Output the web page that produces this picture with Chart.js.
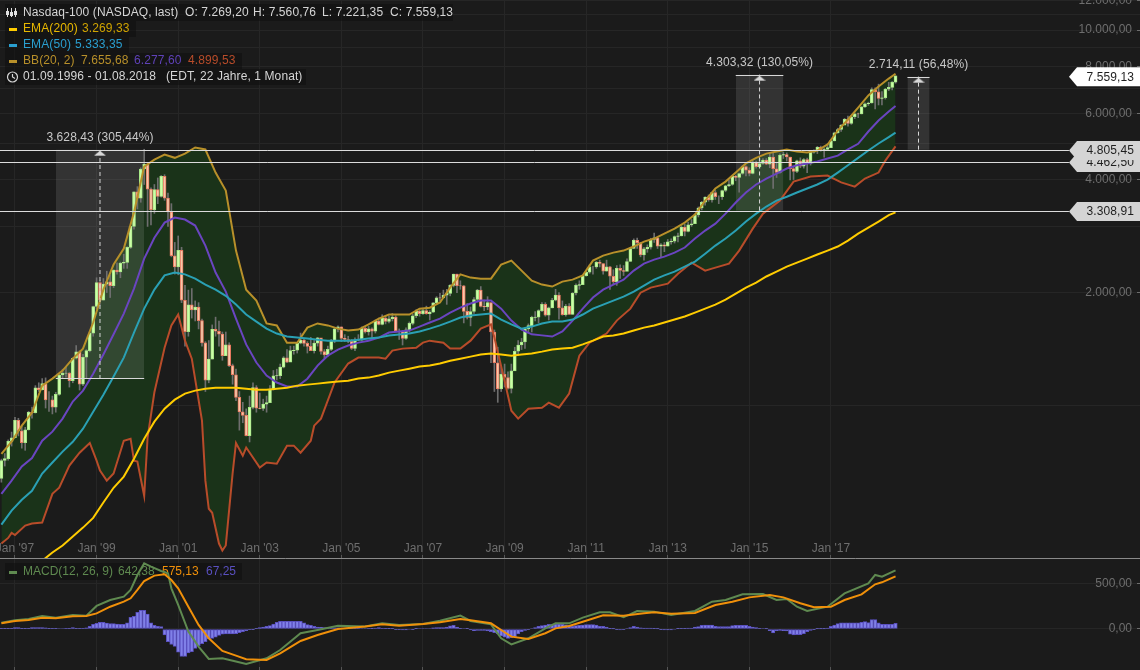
<!DOCTYPE html>
<html>
<head>
<meta charset="utf-8">
<title>Nasdaq-100</title>
<script src="https://cdn.jsdelivr.net/npm/chart.js@4"></script>
<style>
    html, body { margin: 0; padding: 0; background: #1b1b1b; overflow: hidden; }
    canvas { position: absolute; left: 0; display: block; }
    #mainChart { top: 0; }
    #macdChart { top: 559px; }
</style>
</head>
<body>
<canvas id="mainChart" width="1140" height="559"></canvas>
<canvas id="macdChart" width="1140" height="111"></canvas>
<script>
// Monthly candles, Sep 1996 - Aug 2018 (month 0 = Sep 1996)
const opens = [
    640,714,722,803,
    821,914,857,797,862,959,957,1115,1103,1145,1035,1035,
    990,1071,1206,1220,1221,1165,1337,1390,1140,1345,1400,1560,
    1836,2127,1908,2106,2136,2085,2296,2270,2396,2407,2638,3000,
    3707,3570,4266,4397,3773,3324,3763,3609,4077,3570,3282,2506,
    2341,2593,1908,1573,1855,1799,1830,1683,1469,1168,1329,1596,
    1577,1550,1359,1452,1277,1208,1051,962,942,832,989,1116,
    984,982,1009,1018,1106,1200,1201,1266,1340,1304,1400,1404,
    1467,1494,1465,1438,1401,1466,1516,1393,1365,1412,1485,1600,
    1621,1510,1500,1483,1420,1495,1493,1605,1572,1601,1579,1680,
    1645,1710,1676,1703,1720,1580,1575,1510,1590,1655,1735,1784,
    1756,1792,1758,1772,1877,1936,1934,1967,1990,2091,2239,2085,
    2084,1782,1716,1781,1917,2030,1837,1830,1880,1570,1300,1108,
    1212,1188,1111,1237,1395,1450,1477,1600,1632,1718,1720,1790,
    1860,1740,1820,1908,1970,1820,1746,1840,1750,1994,2090,2100,
    2217,2265,2340,2340,2409,2390,2281,2340,2210,2139,2320,2290,
    2278,2420,2620,2755,2715,2520,2615,2640,2770,2799,2660,2680,
    2660,2730,2740,2820,2830,2990,2910,3030,3050,3220,3360,3480,
    3592,3530,3690,3600,3600,3740,3850,3880,4080,4050,4150,4330,
    4236,4150,4450,4330,4414,4508,4396,4588,4274,4181,4648,4665,
    4593,4279,4202,4484,4341,4524,4418,4730,4771,4875,4801,4810,
    4864,5070,5330,5436,5583,5788,5647,5880,5988,5979,6248,6366,
    6396,6949,6855,6581,6605,6967,7040,7269.2
];
const highs = [
    720,745,810,850,
    930,925,880,875,965,990,1130,1150,1180,1185,1090,1060,
    1085,1215,1250,1265,1225,1340,1445,1400,1370,1410,1570,1840,
    2190,2150,2180,2280,2230,2300,2400,2410,2530,2650,3000,3710,
    3830,4300,4816,4400,3800,3880,4040,4100,4120,3680,3450,2720,
    2830,2640,2090,2030,2050,1900,1880,1700,1480,1490,1640,1720,
    1680,1570,1570,1470,1290,1250,1090,1020,980,1060,1150,1130,
    1080,1040,1060,1130,1240,1250,1290,1350,1410,1440,1440,1470,
    1560,1510,1480,1520,1490,1520,1510,1410,1440,1500,1610,1630,
    1620,1545,1530,1500,1515,1545,1620,1625,1625,1610,1690,1710,
    1745,1730,1730,1760,1735,1600,1585,1610,1670,1750,1800,1795,
    1815,1840,1790,1880,1950,1990,2030,2040,2100,2240,2240,2150,
    2090,1870,1830,1940,2040,2075,1910,1950,1880,1590,1430,1270,
    1290,1230,1290,1430,1490,1510,1610,1650,1730,1780,1800,1880,
    1880,1830,1930,2040,2000,1900,1860,1870,2000,2110,2150,2220,
    2290,2370,2350,2420,2440,2390,2440,2350,2300,2360,2370,2360,
    2460,2640,2780,2795,2720,2640,2680,2790,2880,2810,2700,2720,
    2770,2780,2830,2880,3010,3040,3080,3130,3240,3380,3500,3600,
    3640,3700,3740,3620,3750,3860,3990,4100,4110,4160,4360,4350,
    4300,4490,4480,4560,4550,4550,4690,4710,4420,4680,4730,4710,
    4590,4310,4510,4570,4550,4560,4740,4800,4900,4910,4860,4980,
    5110,5350,5480,5600,5820,5900,5910,6020,6010,6260,6400,6430,
    7020,7020,7180,6860,7000,7260,7290,7560.76
];
const lows = [
    625,690,715,780,
    820,830,770,760,860,925,955,1090,1100,985,965,950,
    960,1065,1180,1190,1120,1150,1330,1100,1130,1180,1390,1530,
    1810,1850,1910,2000,1940,2060,2240,2190,2320,2320,2620,2950,
    3340,3480,3880,3000,3030,3250,3450,3590,3520,3000,2490,2240,
    2230,1880,1440,1530,1710,1680,1600,1440,1090,1150,1330,1530,
    1440,1320,1380,1270,1140,1030,860,900,830,800,980,960,
    980,970,960,1020,1100,1170,1180,1260,1300,1310,1370,1380,
    1460,1440,1380,1400,1380,1440,1370,1340,1350,1400,1470,1570,
    1480,1480,1470,1410,1400,1490,1490,1560,1540,1510,1560,1640,
    1640,1650,1660,1680,1570,1500,1450,1500,1570,1640,1715,1730,
    1750,1750,1690,1770,1870,1900,1940,1860,1960,2070,2000,2040,
    1660,1700,1630,1760,1890,1830,1790,1800,1300,1090,1020,1090,
    1120,1105,1080,1240,1360,1410,1420,1560,1570,1680,1660,1780,
    1730,1690,1820,1900,1700,1740,1730,1750,1750,1970,2040,2100,
    2210,2250,2240,2320,2340,2240,2280,2040,2110,2090,2180,2220,
    2300,2420,2620,2620,2490,2440,2560,2610,2720,2620,2490,2570,
    2660,2690,2710,2730,2830,2830,2900,3000,3060,3180,3320,3420,
    3500,3480,3540,3450,3540,3710,3830,3860,3970,3700,4130,4090,
    4090,4140,4290,4290,4390,4380,4300,3790,4050,4160,4550,4480,
    3990,4000,4170,4300,4290,4170,4370,4700,4690,4760,4590,4790,
    4860,5070,5310,5370,5600,5550,5610,5810,5850,5980,6230,6300,
    6390,6170,6320,6320,6550,6900,6930,7221.35
];
const closes = [
    714,722,803,821,
    914,857,797,862,959,957,1115,1103,1145,1035,1035,990,
    1071,1206,1220,1221,1165,1337,1390,1140,1345,1400,1560,1836,
    2127,1908,2106,2136,2085,2296,2270,2396,2407,2638,3000,3707,
    3570,4266,4397,3773,3324,3763,3609,4077,3570,3282,2506,2341,
    2593,1908,1573,1855,1799,1830,1683,1469,1168,1329,1596,1577,
    1550,1359,1452,1277,1208,1051,962,942,832,989,1116,984,
    982,1009,1018,1106,1200,1201,1266,1340,1304,1400,1404,1467,
    1494,1465,1438,1401,1466,1516,1393,1365,1412,1485,1600,1621,
    1510,1500,1483,1420,1495,1493,1605,1572,1601,1579,1680,1645,
    1710,1676,1703,1720,1580,1575,1510,1590,1655,1735,1784,1756,
    1792,1758,1772,1877,1936,1934,1967,1990,2091,2239,2085,2084,
    1782,1716,1781,1917,2030,1837,1830,1880,1570,1300,1108,1212,
    1188,1111,1237,1395,1450,1477,1600,1632,1718,1720,1790,1860,
    1740,1820,1908,1970,1820,1746,1840,1750,1994,2090,2100,2217,
    2265,2340,2340,2409,2390,2281,2340,2210,2139,2320,2290,2278,
    2420,2620,2755,2715,2520,2615,2640,2770,2799,2660,2680,2660,
    2730,2740,2820,2830,2990,2910,3030,3050,3220,3360,3480,3592,
    3530,3690,3600,3600,3740,3850,3880,4080,4050,4150,4330,4236,
    4150,4450,4330,4414,4508,4396,4588,4274,4181,4648,4665,4593,
    4279,4202,4484,4341,4524,4418,4730,4771,4875,4801,4810,4864,
    5070,5330,5436,5583,5788,5647,5880,5988,5979,6248,6366,6396,
    6949,6855,6581,6605,6967,7040,7272,7559.13
];

// Indicators every third month
const lineMonths = [
    0,3,6,9,12,15,18,21,24,27,30,33,36,39,42,45,48,51,54,57,60,63,66,69,72,75,78,81,84,87,
    90,93,96,99,102,105,108,111,114,117,120,123,126,129,132,135,138,141,144,147,150,153,156,159,
    162,165,168,171,174,177,180,183,186,189,192,195,198,201,204,207,210,213,216,219,222,225,228,
    231,234,237,240,243,246,249,252,255,258,261,263
];
const bbUpper = [
    744,801,884,957,1130,1180,1239,1333,1418,1664,2036,2375,2620,3270,4330,4520,4660,4570,4690,4870,
    4810,4175,3739,2587,2036,1904,1655,1635,1470,1470,1613,1655,1635,1603,1584,1594,1645,1705,1748,1748,
    1748,1812,1823,1882,2062,2236,2192,2178,2178,2375,2433,2288,2152,2100,2075,2139,2165,2222,2433,2508,
    2555,2587,2652,2734,2785,2872,2960,3072,3226,3516,3785,3950,4175,4415,4570,4690,4750,4810,4750,4720,
    4779,4960,5403,5780,6220,6700,7080,7430,7656
];
const bbMiddle = [
    582,631,688,725,806,852,923,1025,1096,1216,1368,1548,1758,2050,2463,2800,3072,3168,3130,3016,
    2668,2262,2012,1705,1455,1302,1202,1152,1124,1124,1179,1278,1358,1410,1445,1471,1489,1517,1565,1575,
    1584,1623,1664,1705,1768,1823,1870,1904,1904,1812,1684,1594,1548,1538,1527,1575,1684,1812,1940,2036,
    2100,2165,2288,2388,2448,2493,2555,2636,2785,2925,3052,3246,3475,3695,3880,4025,4150,4280,4365,4415,
    4470,4550,4630,4810,4980,5370,5744,6070,6278
];
const ema50 = [
    482,525,561,593,659,705,754,801,868,963,1069,1195,1342,1565,1812,2036,2222,2262,2236,2178,
    2100,2036,1960,1858,1748,1674,1603,1555,1527,1517,1508,1498,1489,1489,1489,1498,1508,1517,1536,1546,
    1555,1575,1603,1635,1674,1716,1738,1748,1758,1695,1645,1603,1623,1655,1674,1674,1695,1748,1812,1858,
    1904,1950,2012,2088,2165,2222,2274,2345,2418,2538,2668,2785,2925,3092,3246,3390,3516,3600,3695,3785,
    3880,4000,4175,4365,4570,4779,4990,5190,5333
];
const ema200Months = [
    12,15,18,21,24,27,30,33,36,39,42,45,48,51,54,57,60,63,66,69,72,75,78,81,84,87,
    90,93,96,99,102,105,108,111,114,117,120,123,126,129,132,135,138,141,144,147,150,153,156,159,
    162,165,168,171,174,177,180,183,186,189,192,195,198,201,204,207,210,213,216,219,222,225,228,
    231,234,237,240,243,246,249,252,255,258,261,263
];
const ema200 = [
    386,406,424,448,473,502,552,604,647,722,816,906,981,1037,1076,1096,1109,1116,1116,1116,
    1109,1102,1102,1109,1116,1130,1137,1144,1152,1159,1165,1180,1187,1202,1224,1239,1254,1270,1278,1294,
    1317,1333,1350,1368,1377,1368,1358,1368,1377,1392,1410,1418,1426,1455,1489,1527,1536,1555,1584,1613,
    1635,1664,1695,1727,1768,1812,1858,1915,1988,2062,2126,2207,2274,2345,2403,2463,2525,2587,2652,2751,
    2872,2978,3092,3216,3269
];
// Lower band has sharp turns, so it keeps its own months
const bbLowerMonths = [
    0,2,3,4,7,9,12,15,17,20,23,26,28,29,31,33,36,38,39,40,42,43,45,48,50,52,54,56,59,60,61,62,64,65,66,68,69,
    71,72,76,78,81,84,86,88,91,92,94,98,102,105,111,113,115,118,122,124,126,130,132,135,138,141,144,145,148,
    150,152,155,159,161,164,167,170,173,178,181,185,188,191,196,199,203,207,209,214,217,221,224,229,233,238,
    243,247,251,254,258,260,263
];
const bbLower = [
    429,444,458,452,479,485,488,582,604,692,749,795,713,671,631,659,806,816,713,709,575,821,1085,1426,1635,1748,
    1489,1333,912,631,531,518,429,411,424,659,795,735,773,684,705,700,782,782,749,806,884,923,1152,1294,1342,1342,
    1333,1401,1418,1426,1471,1489,1471,1418,1418,1489,1603,1645,1517,1165,969,923,981,987,1018,987,1076,1358,1471,
    1555,1684,1812,1998,2062,2112,2245,2403,2288,2316,2388,2587,2960,3246,3516,3950,4075,4100,3930,3830,4025,4175,
    4494,4900
];

// MACD panel
const macdMonths = [
    0,4,8,12,16,21,25,28,32,36,38,40,42,44,47,49,50,52,55,58,61,65,69,72,78,82,88,93,99,107,112,117,124,129,135,138,
    144,147,150,155,160,163,167,171,176,179,183,187,192,197,204,209,213,218,224,228,231,234,237,243,248,255,257,259,263
];
const macdLine = [
    69,95,109,142,124,153,146,252,317,354,427,591,718,682,635,609,445,263,-29,-193,-328,-321,-357,-383,-321,-230,
    -47,-11,36,26,62,44,55,91,146,88,51,-102,-168,-102,7,62,62,124,182,182,128,197,190,153,197,299,317,379,383,317,
    328,244,197,244,390,500,591,573,642
];
const signalMonths = [
    0,4,8,12,16,21,25,28,32,36,38,40,42,45,48,50,52,55,58,61,65,69,72,78,82,88,93,99,107,112,117,124,129,135,138,144,
    147,150,155,160,163,167,171,177,183,189,192,197,204,210,215,220,226,230,235,239,244,248,253,257,259,263
];
const signalLine = [
    62,88,98,124,117,139,142,171,244,299,336,427,525,584,598,536,445,244,44,-102,-241,-292,-332,-339,-266,-131,-66,
    0,26,51,36,55,73,109,95,62,-11,-84,-109,-47,7,33,80,150,146,171,182,168,175,263,299,346,372,346,281,237,244,317,
    379,489,511,575
];
const macdHist = [
    4,4,3,4,
    15,15,4,3,4,15,15,15,15,12,4,3,
    4,5,5,6,8,15,7,4,6,12,30,50,
    62,73,73,65,60,58,55,52,50,66,128,139,
    182,204,204,164,66,40,29,25,-66,-139,-170,-190,
    -255,-299,-299,-263,-248,-212,-182,-160,-139,-109,-102,-91,
    -70,-58,-55,-55,-55,-51,-40,-30,-18,-4,-2,8,
    15,22,30,36,55,73,84,84,84,84,84,84,
    84,66,47,40,29,22,18,15,15,15,12,12,
    10,8,8,6,6,6,5,5,6,8,10,15,
    6,4,3,3,-3,-8,-10,-10,-6,-3,3,5,
    5,5,5,12,15,15,15,20,35,40,20,8,
    5,3,-10,-18,-15,-15,-15,-20,-30,-40,-55,-75,
    -91,-102,-95,-85,-55,-30,-15,-3,5,15,28,36,
    42,50,50,55,55,50,45,40,30,36,40,44,
    47,47,47,44,30,29,20,4,2,-8,-11,-8,
    5,15,29,20,12,10,10,10,8,2,-8,-10,
    -10,-10,-6,8,4,4,10,10,22,25,40,44,
    44,44,30,26,26,26,26,36,40,40,40,40,
    28,22,15,8,5,2,-18,-44,-18,-15,-18,-22,
    -58,-66,-62,-62,-50,-30,-15,-3,1,1,2,10,
    30,44,58,66,66,66,66,66,66,73,80,70,
    102,102,66,51,51,51,51,62
];

// Axis ticks
const xTickMonths = [4, 28, 52, 76, 100, 124, 148, 172, 196, 220, 244];
const xTickLabels = ["Jan '97", "Jan '99", "Jan '01", "Jan '03", "Jan '05", "Jan '07", "Jan '09", "Jan '11", "Jan '13", "Jan '15", "Jan '17"];
const yTickValues = [1000, 2000, 3000, 4000, 5000, 6000, 7000, 8000, 9000, 10000, 11000, 12000];
const yTickLabels = ['', '2.000,00', '', '4.000,00', '', '6.000,00', '', '8.000,00', '', '10.000,00', '', '12.000,00'];
const macdTickValues = [0, 500];
const macdTickLabels = ['0,00', '500,00'];

// Horizontal levels and the price tags on the right
const levelValues = [3308.91, 4462.50, 4805.45];
const levelLabels = ['3.308,91', '4.462,50', '4.805,45'];
const levelEndMonth = 314;
const lastPrice = 7559.13;
const lastPriceLabel = '7.559,13';

// Measure boxes
const boxStart = [16, 216, 266.5];
const boxEnd = [42, 230, 273];
const boxLow = [1177.02, 3308.91, 4805.45];
const boxHigh = [4805.45, 7612.23, 7519.56];
const boxLabels = ['3.628,43 (305,44%)', '4.303,32 (130,05%)', '2.714,11 (56,48%)'];

const FONT = '12px "Liberation Sans"';
const TEXT_SPACING = '0.1px';
const X_MIN = -0.41;
const X_MAX = 334.9;

const COLORS = {
    bg: '#1b1b1b',
    grid: '#262626',
    tick: '#6e6e6e',
    band: '#1a3319',
    ema200: '#ffcc00',
    ema50: '#2aa0b4',
    bbUpper: '#b8902a',
    bbMiddle: '#6a45c0',
    bbLower: '#b84c2a',
    macd: '#5f8a50',
    signal: '#f0900a',
    histFill: '#8080e8',
    histEdge: '#5a50c0'
};

function toPoints(months, values) {
    return months.map((m, i) => ({ x: m, y: values[i] }));
}

function lineSet(months, values, color, width, order) {
    return {
        type: 'line',
        data: toPoints(months, values),
        borderColor: color,
        borderWidth: width,
        pointRadius: 0,
        fill: false,
        tension: 0,
        order: order
    };
}

function isUp(i) {
    return closes[i] >= opens[i];
}

// x axis takes no room of its own, labels sit inside the plot
function flattenXAxis(scale) {
    scale.height = 0;
    scale.paddingLeft = 0;
    scale.paddingRight = 0;
}

// Flat arrow head, hangs just below its point
function makeArrowHead() {
    const c = document.createElement('canvas');
    c.width = 12;
    c.height = 14;
    const g = c.getContext('2d');
    g.fillStyle = '#d8d8d8';
    g.beginPath();
    g.moveTo(6, 8);
    g.lineTo(12, 13);
    g.lineTo(0, 13);
    g.closePath();
    g.fill();
    return c;
}

// Candles: wick and body are both floating bars
const wickSet = {
    type: 'bar',
    data: closes.map((c, i) => ({ x: i, y: [lows[i], highs[i]] })),
    backgroundColor: '#6e6e6e',
    borderWidth: 0,
    barThickness: 1,
    grouped: false,
    order: 31
};
const bodySet = {
    type: 'bar',
    data: closes.map((c, i) => ({ x: i, y: [opens[i], c] })),
    backgroundColor: ctx => isUp(ctx.dataIndex) ? '#ccffa8' : '#f8c8a8',
    borderColor: ctx => isUp(ctx.dataIndex) ? '#a8e888' : '#e87860',
    borderWidth: 1,
    borderSkipped: false,
    barThickness: 3,
    grouped: false,
    order: 30
};

const mainSets = [wickSet, bodySet];

// Band fill runs from the lower to the upper line
mainSets.push(lineSet(lineMonths, bbUpper, COLORS.bbUpper, 2, 10));
const upperIndex = mainSets.length - 1;
const lowerSet = lineSet(bbLowerMonths, bbLower, COLORS.bbLower, 2, 11);
lowerSet.fill = { target: upperIndex };
lowerSet.backgroundColor = COLORS.band;
mainSets.push(lowerSet);
mainSets.push(lineSet(lineMonths, bbMiddle, COLORS.bbMiddle, 2, 9));
mainSets.push(lineSet(lineMonths, ema50, COLORS.ema50, 2, 8));
mainSets.push(lineSet(ema200Months, ema200, COLORS.ema200, 2, 7));

// Measure boxes: top and bottom edges with a fill between, arrow up the middle
const arrowHead = makeArrowHead();
boxStart.forEach((start, b) => {
    const bottom = lineSet([start, boxEnd[b]], [boxLow[b], boxLow[b]], '#d8d8d8', 1, 5);
    bottom.snapShift = b === 0 ? 0 : 1;
    mainSets.push(bottom);
    const lowIndex = mainSets.length - 1;
    const top = lineSet([start, boxEnd[b]], [boxHigh[b], boxHigh[b]], '#d8d8d8', 1, 5);
    top.snapShift = 1;
    top.fill = { target: lowIndex };
    top.backgroundColor = 'rgba(255, 255, 255, 0.105)';
    mainSets.push(top);
    const mid = (start + boxEnd[b]) / 2;
    const arrow = lineSet([mid, mid], [boxLow[b], boxHigh[b]], '#d8d8d8', 1, 4);
    arrow.borderDash = [4, 3];
    arrow.pointStyle = arrowHead;
    arrow.pointRadius = [0, 6];
    mainSets.push(arrow);
});

levelValues.forEach(v => {
    const level = lineSet([X_MIN, levelEndMonth], [v, v], '#dcdcdc', 1, 3);
    level.snapShift = 1;
    mainSets.push(level);
});

// Flat lines sit on a whole pixel row
const snapPlugin = {
    id: 'snapLines',
    beforeDatasetDraw(chart, args) {
        const ds = chart.data.datasets[args.index];
        if (ds.snapShift === undefined) return;
        const y = chart.scales.y.getPixelForValue(ds.data[0].y);
        chart.ctx.save();
        chart.ctx.translate(0, Math.floor(y + ds.snapShift) + 0.5 - y);
    },
    afterDatasetDraw(chart, args) {
        if (chart.data.datasets[args.index].snapShift !== undefined) chart.ctx.restore();
    }
};

function drawRowBox(ctx, x, y, w, h) {
    ctx.fillStyle = 'rgba(14, 14, 14, 0.55)';
    ctx.fillRect(x, y, w, h);
}

function drawRun(ctx, text, x, y, color) {
    ctx.fillStyle = color;
    ctx.fillText(text, x, y);
}

function drawSwatch(ctx, y, color) {
    ctx.fillStyle = color;
    ctx.fillRect(9, y - 1, 8, 3);
}

// Top left legend block
const legendPlugin = {
    id: 'legendRows',
    afterDraw(chart) {
        const ctx = chart.ctx;
        ctx.save();
        ctx.font = FONT;
        ctx.letterSpacing = TEXT_SPACING;
        ctx.textAlign = 'left';
        ctx.textBaseline = 'middle';

        drawRowBox(ctx, 5, 4, 448, 17);
        drawRowBox(ctx, 5, 21, 131, 16);
        drawRowBox(ctx, 5, 37, 124, 16);
        drawRowBox(ctx, 5, 53, 237, 16);
        drawRowBox(ctx, 5, 69, 301, 16);

        // small candle icon
        ctx.strokeStyle = '#e0e0e0';
        ctx.lineWidth = 1;
        [7.5, 11.5, 15.5].forEach((x, i) => {
            ctx.beginPath();
            ctx.moveTo(x, 8);
            ctx.lineTo(x, 17);
            ctx.stroke();
            ctx.fillStyle = '#e0e0e0';
            ctx.fillRect(x - 1.5, 11 + (i % 2), 3, 4);
        });

        drawRun(ctx, 'Nasdaq-100 (NASDAQ, last)', 23, 13, '#d6d6d6');
        drawRun(ctx, 'O: 7.269,20', 185, 13, '#d6d6d6');
        drawRun(ctx, 'H: 7.560,76', 253, 13, '#d6d6d6');
        drawRun(ctx, 'L: 7.221,35', 322, 13, '#d6d6d6');
        drawRun(ctx, 'C: 7.559,13', 390, 13, '#d6d6d6');

        drawSwatch(ctx, 29, '#ffcc00');
        drawRun(ctx, 'EMA(200)', 23, 29, '#e8b800');
        drawRun(ctx, '3.269,33', 82, 29, '#d0a400');

        drawSwatch(ctx, 45, '#2a9fd0');
        drawRun(ctx, 'EMA(50)', 23, 45, '#2a9fd0');
        drawRun(ctx, '5.333,35', 75, 45, '#2a9fd0');

        drawSwatch(ctx, 61, '#b8902a');
        drawRun(ctx, 'BB(20, 2)', 23, 61, '#b8902a');
        drawRun(ctx, '7.655,68', 81, 61, '#b8902a');
        drawRun(ctx, '6.277,60', 134, 61, '#5f42b8');
        drawRun(ctx, '4.899,53', 188, 61, '#b84c2a');

        // clock icon
        ctx.strokeStyle = '#d6d6d6';
        ctx.lineWidth = 1.2;
        ctx.beginPath();
        ctx.arc(12.5, 77, 5, 0, Math.PI * 2);
        ctx.moveTo(12.5, 74);
        ctx.lineTo(12.5, 77);
        ctx.lineTo(15, 78.5);
        ctx.stroke();

        drawRun(ctx, '01.09.1996 - 01.08.2018', 23, 77, '#d6d6d6');
        drawRun(ctx, '(EDT, 22 Jahre, 1 Monat)', 166, 77, '#d6d6d6');
        ctx.restore();
    }
};

function drawTag(ctx, y, label, fill) {
    ctx.fillStyle = fill;
    ctx.beginPath();
    ctx.moveTo(1069, y);
    ctx.lineTo(1077, y - 9.5);
    ctx.lineTo(1140, y - 9.5);
    ctx.lineTo(1140, y + 9.5);
    ctx.lineTo(1077, y + 9.5);
    ctx.closePath();
    ctx.fill();
    ctx.fillStyle = '#1e1e1e';
    ctx.fillText(label, 1134, y + 0.5);
}

// Price tags and the captions above the measure boxes
const tagPlugin = {
    id: 'priceTags',
    afterDatasetsDraw(chart) {
        const ctx = chart.ctx;
        const xs = chart.scales.x;
        const ys = chart.scales.y;
        ctx.save();
        ctx.font = FONT;
        ctx.letterSpacing = TEXT_SPACING;
        ctx.textBaseline = 'middle';
        ctx.textAlign = 'right';
        levelValues.forEach((v, i) => drawTag(ctx, Math.floor(ys.getPixelForValue(v) + 1) + 0.5, levelLabels[i], '#d4d4d4'));
        drawTag(ctx, ys.getPixelForValue(lastPrice) + 1, lastPriceLabel, '#ffffff');

        ctx.textAlign = 'center';
        ctx.fillStyle = '#c8c8c8';
        boxLabels.forEach((text, b) => {
            const mid = xs.getPixelForValue((boxStart[b] + boxEnd[b]) / 2);
            ctx.fillText(text, mid, ys.getPixelForValue(boxHigh[b]) - 12);
        });
        ctx.restore();
    }
};

new Chart(document.getElementById('mainChart'), {
    type: 'line',
    data: { datasets: mainSets },
    options: {
        responsive: false,
        animation: false,
        events: [],
        layout: { autoPadding: false, padding: { bottom: 1 } },
        plugins: {
            legend: { display: false },
            tooltip: { enabled: false },
            filler: { drawTime: 'beforeDatasetsDraw' }
        },
        scales: {
            x: {
                type: 'linear',
                offset: false,
                min: X_MIN,
                max: X_MAX,
                afterFit: flattenXAxis,
                afterBuildTicks: scale => { scale.ticks = xTickMonths.map(value => ({ value })); },
                grid: { offset: false, color: COLORS.grid, tickColor: '#555', tickLength: -3 },
                border: { display: true, color: '#8a8a8a', width: 1 },
                ticks: {
                    mirror: true,
                    autoSkip: false,
                    maxRotation: 0,
                    padding: 2,
                    color: COLORS.tick,
                    font: { family: 'Liberation Sans', size: 12 },
                    callback: value => xTickLabels[xTickMonths.indexOf(value)]
                }
            },
            y: {
                type: 'logarithmic',
                position: 'right',
                min: 392.6,
                max: 12031,
                afterFit: scale => { scale.width = 0; },
                afterBuildTicks: scale => { scale.ticks = yTickValues.map(value => ({ value })); },
                grid: {
                    color: COLORS.grid,
                    tickLength: -3,
                    tickColor: ctx => yTickLabels[yTickValues.indexOf(ctx.tick.value)] ? '#6e6e6e' : 'transparent'
                },
                border: { display: false },
                ticks: {
                    mirror: true,
                    padding: -8,
                    autoSkip: false,
                    color: COLORS.tick,
                    font: { family: 'Liberation Sans', size: 12 },
                    callback: value => yTickLabels[yTickValues.indexOf(value)]
                }
            }
        }
    },
    plugins: [snapPlugin, legendPlugin, tagPlugin]
});

// MACD caption sits under the lines
const macdLegendPlugin = {
    id: 'macdLegend',
    beforeDatasetsDraw(chart) {
        const ctx = chart.ctx;
        ctx.save();
        ctx.font = FONT;
        ctx.textAlign = 'left';
        ctx.textBaseline = 'middle';
        drawRowBox(ctx, 5, 4, 237, 17);
        drawSwatch(ctx, 13, COLORS.macd);
        drawRun(ctx, 'MACD(12, 26, 9)', 23, 13, '#5f8a50');
        drawRun(ctx, '642,38', 118, 13, '#5f8a50');
        drawRun(ctx, '575,13', 162, 13, '#f0900a');
        drawRun(ctx, '67,25', 206, 13, '#5a50c0');
        ctx.restore();
    }
};

new Chart(document.getElementById('macdChart'), {
    type: 'line',
    data: {
        datasets: [
            lineSet(macdMonths, macdLine, COLORS.macd, 2, 2),
            lineSet(signalMonths, signalLine, COLORS.signal, 2, 1),
            {
                type: 'bar',
                data: macdHist.map((h, i) => ({ x: i, y: h })),
                backgroundColor: COLORS.histFill,
                borderColor: COLORS.histEdge,
                borderWidth: 1,
                borderSkipped: false,
                barThickness: 3.4,
                order: 3
            }
        ]
    },
    options: {
        responsive: false,
        animation: false,
        events: [],
        layout: { autoPadding: false },
        plugins: { legend: { display: false }, tooltip: { enabled: false } },
        scales: {
            x: {
                type: 'linear',
                offset: false,
                min: X_MIN,
                max: X_MAX,
                afterFit: flattenXAxis,
                afterBuildTicks: scale => { scale.ticks = xTickMonths.map(value => ({ value })); },
                grid: { offset: false, color: COLORS.grid, tickColor: '#555', tickLength: -3 },
                border: { display: false },
                ticks: { display: false }
            },
            y: {
                type: 'linear',
                position: 'right',
                min: -449,
                max: 766,
                afterFit: scale => { scale.width = 0; },
                afterBuildTicks: scale => { scale.ticks = macdTickValues.map(value => ({ value })); },
                grid: { color: COLORS.grid, tickLength: -3, tickColor: '#6e6e6e' },
                border: { display: false },
                ticks: {
                    mirror: true,
                    padding: -8,
                    color: COLORS.tick,
                    font: { family: 'Liberation Sans', size: 12 },
                    callback: value => macdTickLabels[macdTickValues.indexOf(value)]
                }
            }
        }
    },
    plugins: [macdLegendPlugin]
});
</script>
</body>
</html>
